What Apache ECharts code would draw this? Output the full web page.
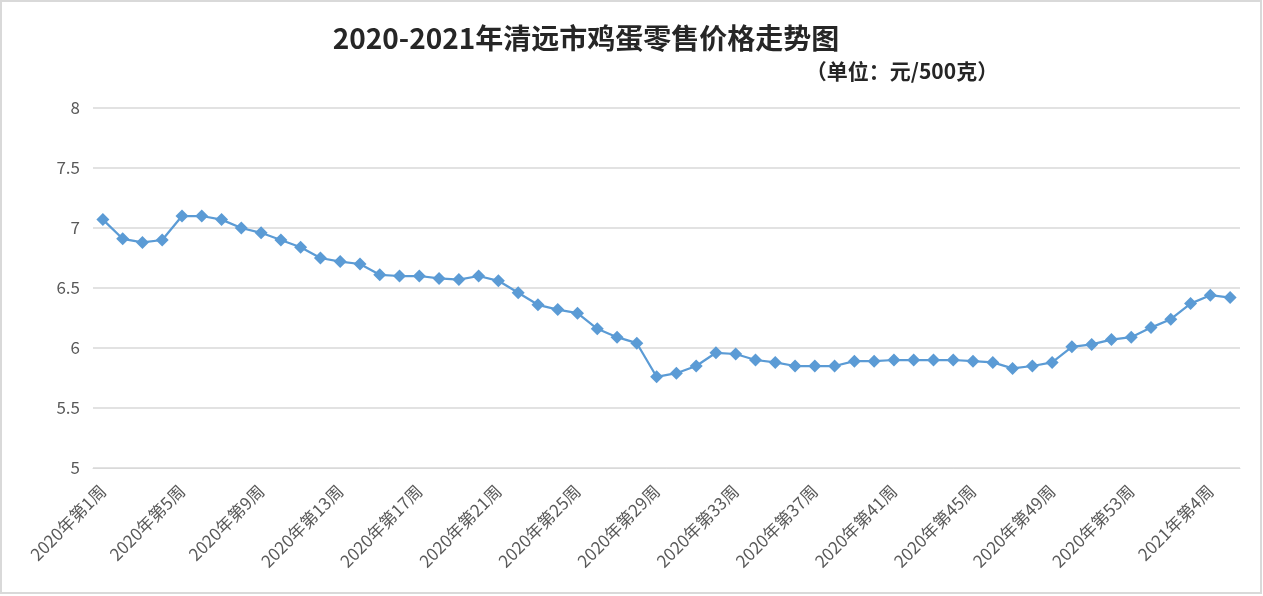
<!DOCTYPE html>
<html>
<head>
<meta charset="utf-8">
<script src="https://cdn.jsdelivr.net/npm/echarts@6/dist/echarts.min.js"></script>
<style>
html,body{margin:0;padding:0;background:#fff;}
#chart{width:1263px;height:596px;}
</style>
</head>
<body>
<div id="chart"></div>
<script>
var titleText = '2020-2021年清远市鸡蛋零售价格走势图';
var unitText = '（单位：元/500克）';

var weeks2020 = [];
for (var i = 1; i <= 53; i++) weeks2020.push('2020年第' + i + '周');
var weeks2021 = ['2021年第1周', '2021年第2周', '2021年第3周', '2021年第4周', '2021年第5周'];
var categories = weeks2020.concat(weeks2021);

var prices2020 = [
  7.07, 6.91, 6.88, 6.90, 7.10, 7.10, 7.07, 7.00, 6.96, 6.90,
  6.84, 6.75, 6.72, 6.70, 6.61, 6.60, 6.60, 6.58, 6.57, 6.60,
  6.56, 6.46, 6.36, 6.32, 6.29, 6.16, 6.09, 6.04, 5.76, 5.79,
  5.85, 5.96, 5.95, 5.90, 5.88, 5.85, 5.85, 5.85, 5.89, 5.89,
  5.90, 5.90, 5.90, 5.90, 5.89, 5.88, 5.83, 5.85, 5.88, 6.01,
  6.03, 6.07, 6.09
];
var prices2021 = [6.17, 6.24, 6.37, 6.44, 6.42];
var prices = prices2020.concat(prices2021);

var yTicks = [5, 5.5, 6, 6.5, 7, 7.5, 8];

var chart = echarts.init(document.getElementById('chart'), null, {renderer: 'canvas'});
chart.setOption({
  backgroundColor: '#ffffff',
  animation: false,
  graphic: [{
    type: 'rect',
    shape: {x: 1, y: 1, width: 1260, height: 592},
    style: {fill: 'none', stroke: '#D9D9D9', lineWidth: 2},
    silent: true
  }],
  title: [{
    text: titleText,
    left: 581, top: 19,
    textAlign: 'center',
    textStyle: {fontFamily: 'Noto Sans CJK SC', fontSize: 28, fontWeight: 'bold', color: '#262626'}
  }, {
    text: unitText,
    left: 897, top: 56,
    textAlign: 'center',
    textStyle: {fontFamily: 'Noto Sans CJK SC', fontSize: 21, fontWeight: 'bold', color: '#262626'}
  }],
  grid: {left: 93, right: 23, top: 108, bottom: 128, containLabel: false},
  xAxis: {
    type: 'category',
    data: categories,
    boundaryGap: true,
    axisLine: {show: true, lineStyle: {color: '#D9D9D9', width: 1}},
    axisTick: {show: false},
    axisLabel: {
      interval: 3,
      rotate: 45,
      margin: 20,
      color: '#595959',
      fontSize: 17,
      fontFamily: 'Noto Sans CJK SC'
    }
  },
  yAxis: {
    type: 'value',
    min: yTicks[0],
    max: yTicks[yTicks.length - 1],
    interval: 0.5,
    axisLine: {show: false},
    axisTick: {show: false},
    splitLine: {lineStyle: {color: '#D9D9D9', width: 1.5}},
    axisLabel: {color: '#595959', fontSize: 17, margin: 13, fontFamily: 'Noto Sans CJK SC'}
  },
  series: [{
    type: 'line',
    data: prices,
    symbol: 'diamond',
    symbolSize: 13,
    lineStyle: {color: '#5B9BD5', width: 2.25},
    itemStyle: {color: '#5B9BD5'}
  }]
});
</script>
</body>
</html>
